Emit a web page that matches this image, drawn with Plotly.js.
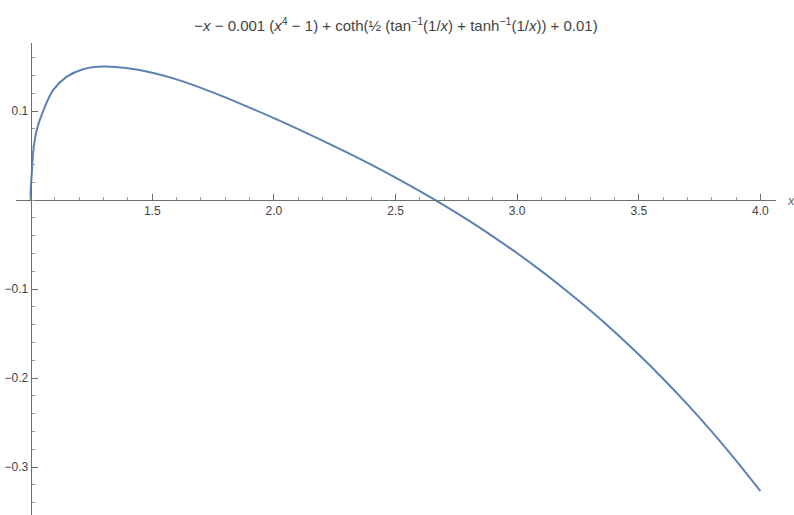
<!DOCTYPE html>
<html>
<head>
<meta charset="utf-8">
<script src="https://cdn.plot.ly/plotly-3.0.1.min.js"></script>
<style>html,body{margin:0;padding:0;background:#fff;}#chart{width:794px;height:515px;}</style>
</head>
<body>
<div id="chart"></div>
<script>
// Values
const xValues = [1.0, 1.0005, 1.002, 1.005, 1.0115, 1.0255, 1.053, 1.094, 1.149, 1.216, 1.3, 1.4, 1.5, 1.6, 1.7, 1.8, 1.9,
                 2.0, 2.1, 2.2, 2.3, 2.4, 2.5, 2.6, 2.7, 2.8, 2.9, 3.0, 3.1, 3.2, 3.3, 3.4, 3.5, 3.6, 3.7, 3.8, 3.9, 4.0];
const yValues = [0.0, 0.010, 0.019, 0.030, 0.056, 0.079, 0.101, 0.124, 0.1386, 0.147, 0.150, 0.148, 0.143, 0.1355, 0.126, 0.1153, 0.1038,
                 0.092, 0.0796, 0.0668, 0.0535, 0.0397, 0.0252, 0.0100, -0.0060, -0.0229, -0.0408, -0.0598, -0.0799, -0.1013, -0.1239, -0.1480, -0.1736, -0.2008, -0.2296, -0.2602, -0.2927, -0.327];
const xTickVals = [1.5, 2.0, 2.5, 3.0, 3.5, 4.0];
const xTickText = ["1.5", "2.0", "2.5", "3.0", "3.5", "4.0"];
const yTickVals = [0.1, -0.1, -0.2, -0.3];
const yTickText = ["0.1", "\u22120.1", "\u22120.2", "\u22120.3"];
const titleText = "\u2212<i>x</i> \u2212 0.001 (<i>x</i><sup>4</sup> \u2212 1) + coth(\u00bd (tan<sup>\u22121</sup>(1/<i>x</i>) + tanh<sup>\u22121</sup>(1/<i>x</i>)) + 0.01)";

const xRange = [0.940, 4.064];
const yRange = [-0.3539, 0.1764];
const yZeroFrac = (0 - yRange[0]) / (yRange[1] - yRange[0]);
const xOneFrac = (1 - xRange[0]) / (xRange[1] - xRange[0]);

const axisColor = "#6e6e6e";
const tickFont = {family: "Liberation Sans, Arial, sans-serif", size: 12, color: "#444"};

const trace = {
  x: xValues, y: yValues, type: "scatter", mode: "lines",
  line: {color: "#5e81b5", width: 2, shape: "spline", smoothing: 1},
  hoverinfo: "skip"
};

const layout = {
  width: 794, height: 515,
  margin: {l: 16, r: 18, t: 43, b: 0, pad: 0},
  paper_bgcolor: "#fff", plot_bgcolor: "#fff",
  showlegend: false,
  title: {text: titleText, x: 0.5, xref: "paper", y: 0.96, yref: "container", xanchor: "center",
          font: {family: "Liberation Sans Narrow, Liberation Sans, Arial, sans-serif", size: 15, color: "#444"}},
  xaxis: {
    range: xRange, anchor: "free", position: yZeroFrac,
    showgrid: false, zeroline: false, showline: true, linecolor: axisColor, linewidth: 1,
    tickmode: "array", tickvals: xTickVals, ticktext: xTickText,
    ticks: "inside", ticklen: 6, tickcolor: axisColor, tickwidth: 1,
    tickfont: tickFont,
    minor: {tickmode: "linear", tick0: 0, dtick: 0.1, ticks: "inside", ticklen: 3.5, tickcolor: "#999", tickwidth: 1, showgrid: false}
  },
  yaxis: {
    range: yRange, anchor: "free", position: xOneFrac,
    showgrid: false, zeroline: false, showline: true, linecolor: axisColor, linewidth: 1,
    tickmode: "array", tickvals: yTickVals, ticktext: yTickText,
    ticks: "inside", ticklen: 6, tickcolor: axisColor, tickwidth: 1,
    tickfont: tickFont,
    minor: {tickmode: "linear", tick0: 0, dtick: 0.02, ticks: "inside", ticklen: 3.5, tickcolor: "#999", tickwidth: 1, showgrid: false}
  },
  annotations: [{
    text: "<i>x</i>", xref: "paper", yref: "paper", x: 1.012, y: yZeroFrac,
    xanchor: "left", yanchor: "middle", showarrow: false,
    font: {family: "Liberation Sans, Arial, sans-serif", size: 13, color: "#666"}
  }]
};

Plotly.newPlot("chart", [trace], layout, {displayModeBar: false, staticPlot: true});
</script>
</body>
</html>
